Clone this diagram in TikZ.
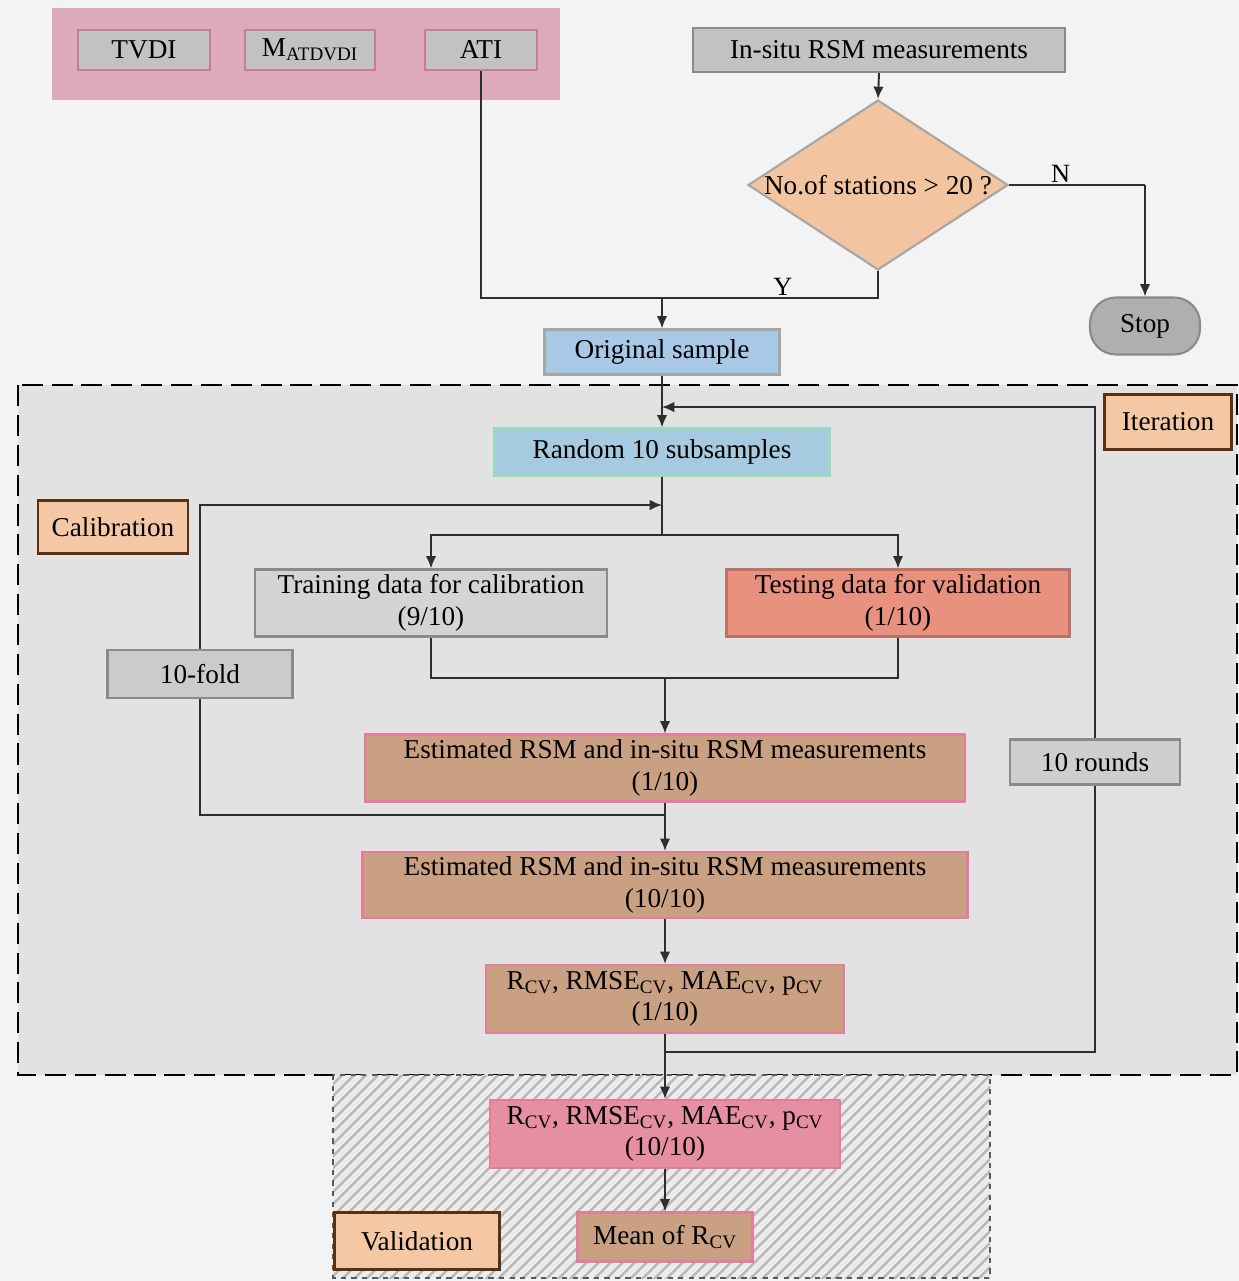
\documentclass[tikz,border=0pt]{standalone}
\usepackage{fontspec}
\setmainfont{Liberation Serif}
\usetikzlibrary{shapes.geometric,arrows.meta}
\newdimen\px \px=0.02cm
\definecolor{bgc}{HTML}{F3F3F3}
\definecolor{regc}{HTML}{E2E2E2}
\definecolor{pinkband}{HTML}{DCAAB9}
\definecolor{grayfill}{HTML}{C2C2C2}
\definecolor{grayline}{HTML}{8A8A8A}
\definecolor{peach}{HTML}{F2C4A0}
\definecolor{bluefill}{HTML}{A8C8E6}
\definecolor{greenline}{HTML}{9ED8C0}
\definecolor{tagfill}{HTML}{F4C7A5}
\definecolor{tagline}{HTML}{5A3010}
\definecolor{salmon}{HTML}{E8917F}
\definecolor{tan}{HTML}{C9A081}
\definecolor{pinkline}{HTML}{E37D9D}
\definecolor{pinkfill}{HTML}{E68FA2}
\definecolor{linec}{HTML}{2E2E2E}
\tikzset{
  box/.style={draw, line width=1.2pt, inner sep=2pt, align=center, font=\fontsize{15.5}{18}\selectfont},
  graybox/.style={box, fill=grayfill, draw=grayline},
  tagbox/.style={box, fill=tagfill, draw=tagline, line width=1.6pt},
  tanbox/.style={box, fill=tan, draw=pinkline},
  conn/.style={draw=linec, line width=1.1pt},
  arr/.style={conn, -{Latex[length=7pt,width=6pt]}},
  lbl/.style={font=\fontsize{15}{18}\selectfont, inner sep=1pt}
}
\begin{document}
\begin{tikzpicture}[x=0.02cm, y=-0.02cm]
\useasboundingbox (0,0) rectangle (1239,1281);
\fill[bgc] (0,0) rectangle (1239,1281);
% top pink band
\fill[pinkband] (52,8) rectangle (560,100);
% big dashed region
\draw[fill=regc, line width=1.6pt, dash pattern=on 12pt off 5pt] (18,385) rectangle (1237,1075);
% validation hatched region
\begin{scope}
\clip (333,1075) rectangle (990,1278);
\fill[bgc!60!regc] (333,1075) rectangle (990,1278);
\foreach \i in {-220,-208,...,700} {
  \draw[gray!55, line width=1.4pt] (333+\i,1280) -- ++(220,-220);
}
\end{scope}
\draw[line width=1.4pt, dash pattern=on 3pt off 3pt, draw=gray!70!black] (333,1075) rectangle (990,1278);

% nodes
\node[graybox, draw=pinkline!70!gray, minimum width=132\px, minimum height=40\px] (tvdi) at (144,50) {TVDI};
\node[graybox, draw=pinkline!70!gray, minimum width=130\px, minimum height=40\px] (mat) at (310,50) {M\textsubscript{ATDVDI}};
\node[graybox, draw=pinkline!70!gray, minimum width=112\px, minimum height=40\px] (ati) at (481,50) {ATI};
\node[graybox, minimum width=372\px, minimum height=44\px] (insitu) at (879,50) {In-situ RSM measurements};
\node[diamond, draw=gray!70, line width=1.2pt, fill=peach, minimum width=260\px, minimum height=170\px, inner sep=0pt] (dia) at (878,185) {};
\node[lbl, font=\fontsize{15.5}{18}\selectfont] (diat) at (dia.center) {No.of stations > 20 ?};
\node[box, fill=grayfill!90!black, draw=grayline, rounded corners=26\px, minimum width=110\px, minimum height=57\px] (stop) at (1145,326) {Stop};
\node[box, fill=bluefill, draw=gray!70, minimum width=235\px, minimum height=45\px] (orig) at (662,352) {Original sample};
\node[box, fill=bluefill!85!greenline, draw=greenline, minimum width=335\px, minimum height=47\px] (rand) at (662,452) {Random 10 subsamples};
\node[tagbox, minimum width=127\px, minimum height=55\px] (iter) at (1168,422) {Iteration};
\node[tagbox, minimum width=150\px, minimum height=53\px] (calib) at (113,527) {Calibration};
\node[graybox, fill=grayfill!70!white, minimum width=352\px, minimum height=67\px] (train) at (431,603) {Training data for calibration\\(9/10)};
\node[box, fill=salmon, draw=salmon!80!black, minimum width=343\px, minimum height=67\px] (test) at (898,603) {Testing data for validation\\(1/10)};
\node[graybox, fill=grayfill!85!white, minimum width=185\px, minimum height=48\px] (fold) at (200,674) {10-fold};
\node[tanbox, minimum width=600\px, minimum height=67\px] (est1) at (665,768) {Estimated RSM and in-situ RSM measurements\\(1/10)};
\node[graybox, fill=grayfill!80!white, minimum width=170\px, minimum height=45\px] (rounds) at (1095,762) {10 rounds};
\node[tanbox, minimum width=605\px, minimum height=66\px] (est2) at (665,885) {Estimated RSM and in-situ RSM measurements\\(10/10)};
\node[tanbox, minimum width=358\px, minimum height=68\px] (rbox) at (665,999) {R\textsubscript{CV}, RMSE\textsubscript{CV}, MAE\textsubscript{CV}, p\textsubscript{CV}\\(1/10)};
\node[box, fill=pinkfill, draw=pinkline, minimum width=350\px, minimum height=68\px] (r10) at (665,1134) {R\textsubscript{CV}, RMSE\textsubscript{CV}, MAE\textsubscript{CV}, p\textsubscript{CV}\\(10/10)};
\node[tanbox, minimum width=175\px, minimum height=49\px] (mean) at (665,1237) {Mean of R\textsubscript{CV}};
\node[tagbox, minimum width=165\px, minimum height=57\px] (valid) at (417,1241) {Validation};

% junction coordinates
\coordinate (j1) at (662,298);
\coordinate (it1) at (662,407);
\coordinate (s1) at (662,535);
\coordinate (c1) at (662,505);
\coordinate (c2) at (665,815);
\coordinate (jn) at (665,678);
\coordinate (j5) at (665,1052);
\coordinate (stopc) at (1145,185);

% connectors
\draw[arr] (insitu.south) -- (dia.north);
\draw[conn] (ati.south) |- (j1);
\draw[conn] (dia.south) |- (j1) node[lbl, pos=0.72, above] {Y};
\draw[arr] (j1) -- (orig.north);
\draw[conn] (dia.east) -- (stopc) node[lbl, pos=0.38, above] {N};
\draw[arr] (stopc) -- (stop.north);
\draw[arr] (orig.south) -- (rand.north);
% iteration loop
\draw[conn] (rbox.south) -- (j5);
\draw[conn] (j5) -| (rounds.south);
\draw[arr] (rounds.north) |- (it1);
% split
\draw[conn] (rand.south) -- (s1);
\draw[arr] (s1) -| (train.north);
\draw[arr] (s1) -| (test.north);
% calibration loop
\draw[arr] (fold.north) |- (c1);
\draw[conn] (fold.south) |- (c2);
% join
\draw[conn] (train.south) |- (jn);
\draw[conn] (test.south) |- (jn);
\draw[arr] (jn) -- (est1.north);
\draw[arr] (est1.south) -- (est2.north);
\draw[arr] (est2.south) -- (rbox.north);
\draw[arr] (j5) -- (r10.north);
\draw[arr] (r10.south) -- (mean.north);
\end{tikzpicture}
\end{document}
